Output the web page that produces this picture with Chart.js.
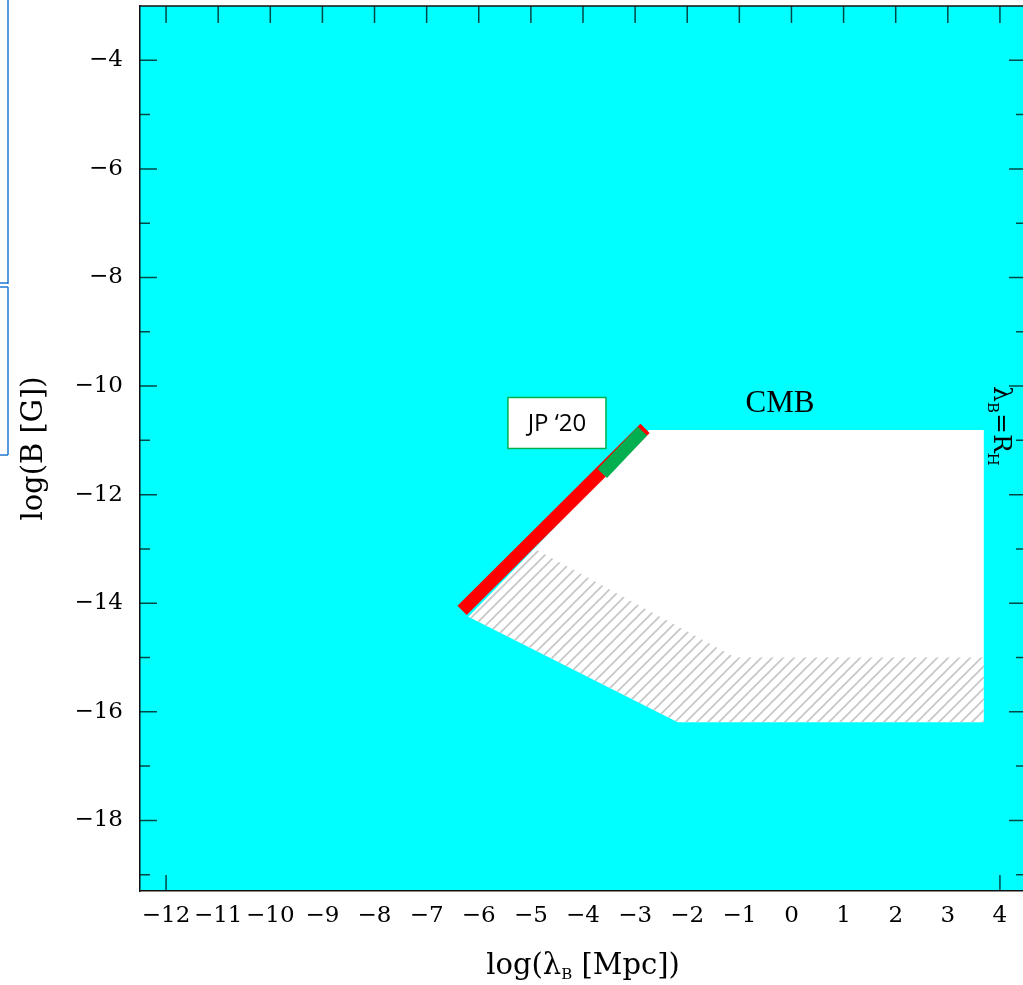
<!DOCTYPE html>
<html>
<head>
<meta charset="utf-8">
<script src="https://cdn.jsdelivr.net/npm/chart.js@4.4.0/dist/chart.umd.min.js"></script>
<style>
  html, body { margin: 0; padding: 0; background: #fff; overflow: hidden; }
  #wrap { width: 1040px; height: 985px; }
</style>
</head>
<body>
<div id="wrap"><canvas id="myChart" width="1040" height="985"></canvas></div>
<script>
// axis ticks
const xTicks = [-12, -11, -10, -9, -8, -7, -6, -5, -4, -3, -2, -1, 0, 1, 2, 3, 4];
const yTicks = [-18, -16, -14, -12, -10, -8, -6, -4];
const yMinorTicks = [-19, -17, -15, -13, -11, -9, -7, -5];
const xBottomTicks = [-12, 4];   // the only bottom ticks left visible

// allowed region (white)
const whiteX = [-6.2, -2.74, 3.69, 3.69, -2.18, -6.2];
const whiteY = [-14.25, -10.81, -10.81, -16.19, -16.19, -14.25];

// hatched band
const hatchX = [-6.2, -4.92, -1.08, 3.69, 3.69, -2.18, -6.2];
const hatchY = [-14.25, -13.0, -15.0, -15.0, -16.19, -16.19, -14.25];

// JP '20 line
const redX = [-6.32, -2.81];
const redY = [-14.13, -10.78];
const greenX = [-3.63, -2.86];
const greenY = [-11.61, -10.83];

function toPoints(xs, ys) {
  return xs.map((x, i) => ({ x: x, y: ys[i] }));
}

function makeHatch() {
  const s = 11;
  const c = document.createElement('canvas');
  c.width = s; c.height = s;
  const g = c.getContext('2d');
  g.strokeStyle = '#c6c6c6';
  g.lineWidth = 1.6;
  g.beginPath();
  g.moveTo(0, s); g.lineTo(s, 0);
  g.moveTo(-1, 1); g.lineTo(1, -1);
  g.moveTo(s - 1, s + 1); g.lineTo(s + 1, s - 1);
  g.stroke();
  return g.createPattern(c, 'repeat');
}

function minus(v) {
  return v < 0 ? '\u2212' + Math.abs(v) : String(v);
}

// cyan plot background
const bgPlugin = {
  id: 'bg',
  beforeDraw(chart) {
    const { ctx, chartArea: a } = chart;
    ctx.save();
    ctx.fillStyle = '#00ffff';
    ctx.fillRect(a.left, a.top, a.right - a.left, a.bottom - a.top);
    ctx.restore();
  }
};

// inward ticks on all sides
const tickPlugin = {
  id: 'inTicks',
  afterDatasetsDraw(chart) {
    const { ctx, chartArea: a, scales: { x, y } } = chart;
    ctx.save();
    ctx.strokeStyle = 'rgba(0,0,0,0.72)';
    ctx.lineWidth = 1.5;
    ctx.beginPath();
    yTicks.forEach(v => {
      const py = y.getPixelForValue(v);
      ctx.moveTo(a.left, py); ctx.lineTo(a.left + 17, py);
      ctx.moveTo(a.right, py); ctx.lineTo(a.right - 17, py);
    });
    yMinorTicks.forEach(v => {
      const py = y.getPixelForValue(v);
      ctx.moveTo(a.left, py); ctx.lineTo(a.left + 10, py);
      ctx.moveTo(a.right, py); ctx.lineTo(a.right - 10, py);
    });
    xTicks.forEach(v => {
      const px = x.getPixelForValue(v);
      ctx.moveTo(px, a.top); ctx.lineTo(px, a.top + 17);
    });
    xBottomTicks.forEach(v => {
      const px = x.getPixelForValue(v);
      ctx.moveTo(px, a.bottom); ctx.lineTo(px, a.bottom - 16);
    });
    ctx.stroke();
    // top frame line
    ctx.strokeStyle = '#111';
    ctx.beginPath();
    ctx.moveTo(a.left, a.top); ctx.lineTo(a.right, a.top);
    ctx.stroke();
    ctx.restore();
  }
};

function drawRuns(ctx, runs, x, y, align) {
  let w = 0;
  runs.forEach(r => { ctx.font = r.f; w += ctx.measureText(r.t).width; });
  let cx = align === 'center' ? x - w / 2 : x;
  ctx.textAlign = 'left';
  ctx.textBaseline = 'alphabetic';
  runs.forEach(r => {
    ctx.font = r.f;
    ctx.fillText(r.t, cx, y + (r.dy || 0));
    cx += ctx.measureText(r.t).width;
  });
}

const big = '29px "DejaVu Serif"';
const sub = '15px "DejaVu Serif"';

const labelPlugin = {
  id: 'labels',
  afterDraw(chart) {
    const { ctx, chartArea: a, scales: { x, y } } = chart;
    ctx.save();
    ctx.fillStyle = '#000';

    // axis titles
    drawRuns(ctx, [
      { t: 'log(\u03bb', f: big },
      { t: 'B', f: sub, dy: 5 },
      { t: ' [Mpc])', f: big }
    ], (a.left + a.right) / 2, 974, 'center');

    ctx.save();
    ctx.translate(42, (a.top + a.bottom) / 2);
    ctx.rotate(-Math.PI / 2);
    drawRuns(ctx, [{ t: 'log(B [G])', f: big }], 0, 0, 'center');
    ctx.restore();

    // CMB
    ctx.font = '31px "Liberation Serif"';
    ctx.textAlign = 'center';
    ctx.textBaseline = 'middle';
    ctx.fillText('CMB', x.getPixelForValue(-0.22), y.getPixelForValue(-10.33));

    // JP '20 box
    const bx = x.getPixelForValue(-4.5), by = y.getPixelForValue(-10.68);
    ctx.fillStyle = '#fff';
    ctx.fillRect(bx - 49, by - 25.5, 98, 51);
    ctx.strokeStyle = '#00b050';
    ctx.lineWidth = 1.5;
    ctx.strokeRect(bx - 49, by - 25.5, 98, 51);
    ctx.fillStyle = '#000';
    ctx.font = '24px "Open Sans"';
    ctx.textAlign = 'center';
    ctx.textBaseline = 'middle';
    ctx.fillText('JP \u201820', bx, by + 1);

    // lambda_B = R_H, rotated
    ctx.save();
    ctx.translate(x.getPixelForValue(3.885), y.getPixelForValue(-10.0));
    ctx.rotate(Math.PI / 2);
    drawRuns(ctx, [
      { t: '\u03bb', f: '25px "DejaVu Serif"' },
      { t: 'B', f: '15px "DejaVu Serif"', dy: 6 },
      { t: '=R', f: '25px "DejaVu Serif"' },
      { t: 'H', f: '15px "DejaVu Serif"', dy: 6 }
    ], 0, 0, 'left');
    ctx.restore();

    // slide box edges at the left
    ctx.strokeStyle = '#1f78d1';
    ctx.lineWidth = 1.5;
    ctx.beginPath();
    ctx.moveTo(8, 0); ctx.lineTo(8, 284);
    ctx.moveTo(0, 283); ctx.lineTo(8, 283);
    ctx.moveTo(0, 287); ctx.lineTo(8, 287);
    ctx.moveTo(8, 287); ctx.lineTo(8, 455);
    ctx.moveTo(0, 455); ctx.lineTo(8, 455);
    ctx.stroke();

    ctx.restore();
  }
};

const tickFont = { family: 'DejaVu Serif', size: 23 };

const config = {
  type: 'line',
  data: {
    datasets: [
      {
        data: toPoints(greenX, greenY),
        borderColor: '#00b050',
        borderWidth: 13,
        borderCapStyle: 'butt',
        pointRadius: 0,
        fill: false,
        order: 1
      },
      {
        data: toPoints(redX, redY),
        borderColor: '#ff0000',
        borderWidth: 13,
        borderCapStyle: 'butt',
        pointRadius: 0,
        fill: false,
        order: 2
      },
      {
        data: toPoints(hatchX, hatchY),
        borderColor: 'transparent',
        borderWidth: 0,
        backgroundColor: makeHatch(),
        pointRadius: 0,
        fill: 'shape',
        order: 4
      },
      {
        data: toPoints(whiteX, whiteY),
        borderColor: 'transparent',
        borderWidth: 0,
        backgroundColor: '#ffffff',
        pointRadius: 0,
        fill: 'shape',
        order: 5
      }
    ]
  },
  options: {
    responsive: false,
    animation: false,
    devicePixelRatio: 1,
    events: [],
    layout: { padding: { top: 6, right: 14, left: 0, bottom: 0 } },
    scales: {
      x: {
        type: 'linear',
        min: -12.5,
        max: 4.5,
        afterBuildTicks: s => { s.ticks = xTicks.map(v => ({ value: v })); },
        afterFit: s => { s.height = 94; s.paddingLeft = 0; s.paddingRight = 0; },
        grid: { drawOnChartArea: false, drawTicks: false, color: 'transparent' },
        border: { display: true, color: '#111', width: 1.5 },
        ticks: {
          autoSkip: false,
          maxRotation: 0,
          minRotation: 0,
          padding: 11,
          color: '#000',
          font: tickFont,
          callback: v => minus(v)
        }
      },
      y: {
        type: 'linear',
        min: -19.3,
        max: -3,
        afterBuildTicks: s => { s.ticks = yTicks.map(v => ({ value: v })); },
        afterFit: s => { s.width = 140; s.paddingTop = 0; s.paddingBottom = 0; },
        grid: { drawOnChartArea: false, drawTicks: false, color: 'transparent' },
        border: { display: true, color: '#111', width: 1.5 },
        ticks: {
          padding: 17,
          color: '#000',
          font: tickFont,
          callback: v => minus(v)
        }
      }
    },
    plugins: {
      legend: { display: false },
      tooltip: { enabled: false }
    }
  },
  plugins: [bgPlugin, tickPlugin, labelPlugin]
};

let myChart = new Chart(document.getElementById('myChart'), config);
</script>
</body>
</html>
